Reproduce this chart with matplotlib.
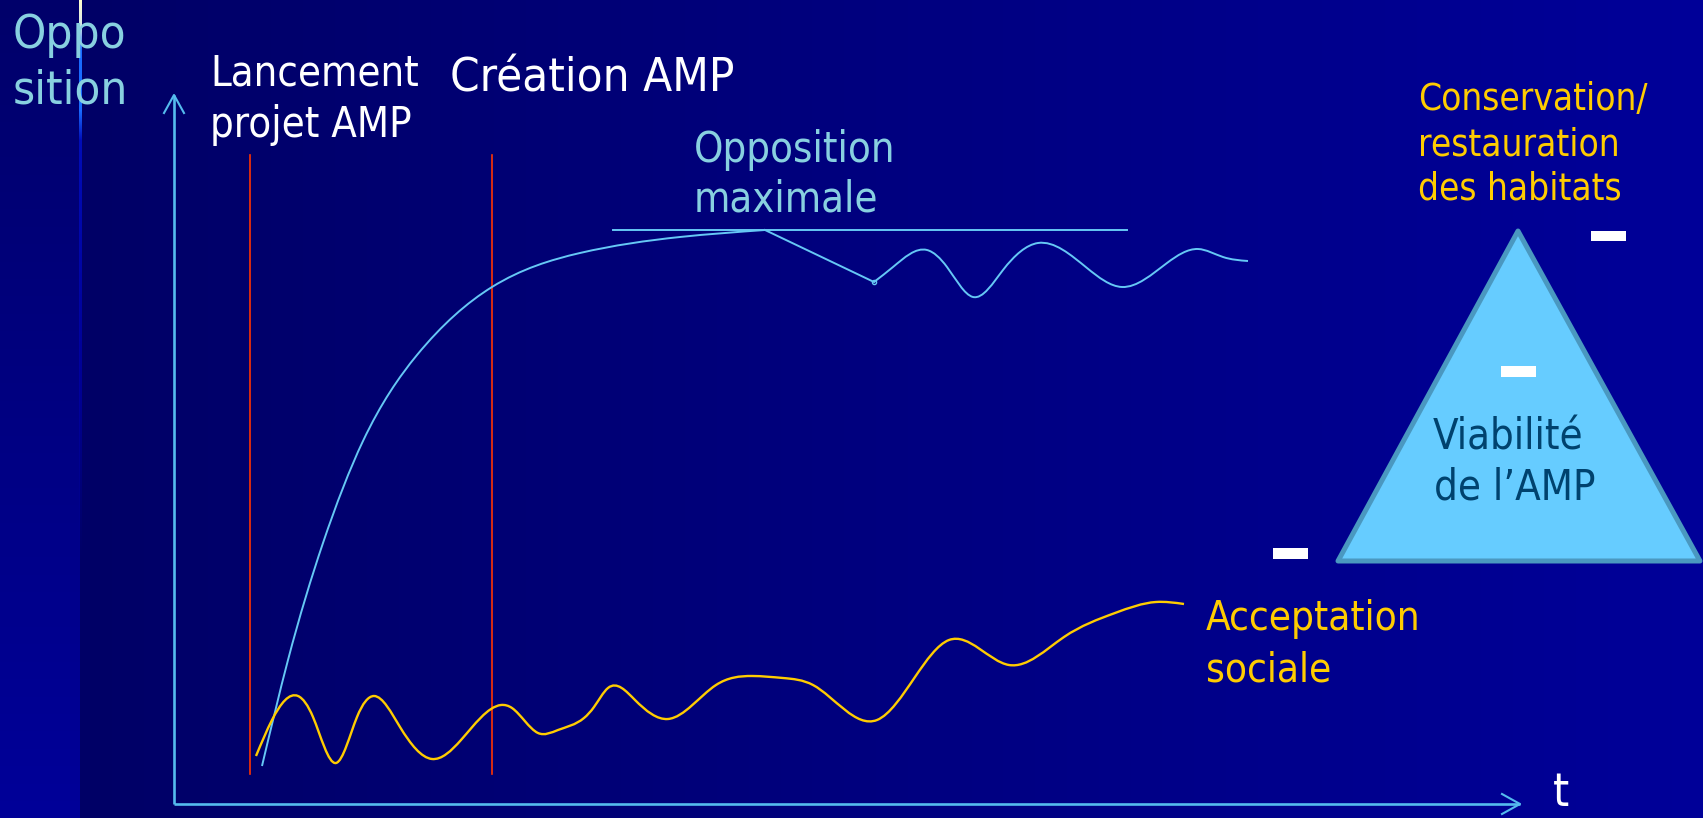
import numpy as np
import matplotlib
matplotlib.use('Agg')
import matplotlib.pyplot as plt
from matplotlib.path import Path
from matplotlib.patches import PathPatch, Polygon, Rectangle

W, H = 1703, 818

# time axis t and level v (1 unit = 100 px on both axes, origin at the axes corner)
opp_rise_t = [0.88, 1.14, 1.49, 1.89, 2.43, 3.18, 4.06, 5.06, 5.91]
opp_rise_v = [0.38, 1.44, 2.61, 3.63, 4.49, 5.17, 5.51, 5.67, 5.74]

opp_wave_t = [7.00, 7.19, 7.53, 7.73, 7.99, 8.29, 8.64, 9.13, 9.48, 9.93, 10.24, 10.49, 10.74]
opp_wave_v = [5.22, 5.37, 5.54, 5.37, 5.07, 5.34, 5.61, 5.36, 5.17, 5.41, 5.55, 5.47, 5.43]

acc_t = [0.82, 0.98, 1.24, 1.39, 1.62, 1.83, 2.00, 2.26, 2.58, 2.87, 3.27, 3.38, 3.64,
         3.84, 4.10, 4.20, 4.34, 4.61, 4.94, 5.42, 5.78, 6.09, 6.39, 7.03, 7.41, 7.75,
         8.35, 8.90, 9.41, 9.82, 10.10]
acc_v = [0.48, 0.84, 1.08, 0.87, 0.41, 0.87, 1.08, 0.77, 0.45, 0.64, 0.99, 0.96, 0.71,
         0.74, 0.86, 0.97, 1.16, 1.04, 0.85, 1.19, 1.28, 1.26, 1.19, 0.84, 1.27, 1.64,
         1.39, 1.67, 1.91, 2.02, 2.00]

event_t = [0.76, 3.18]          # Lancement projet AMP, Création AMP
event_v = (0.30, 6.49)
max_level = 5.74
max_span = (4.39, 9.53)
t_end, v_end = 13.46, 7.09

AXIS = '#55BBEE'
OPP = '#66C8F5'
RED = '#FF3300'
YEL = '#FFCC00'
CYAN = '#88D0E0'


def px(x, y):
    # slide pixel -> data units
    return (x - 174) / 100, (804 - y) / 100


def smooth_path(t, v):
    # natural cubic spline through the points, handed to matplotlib as Bezier segments
    t = np.asarray(t, float)
    v = np.asarray(v, float)
    n = len(t)
    h = np.diff(t)
    d = np.diff(v) / h
    A = np.zeros((n, n))
    rhs = np.zeros(n)
    A[0, 0] = A[-1, -1] = 1
    for i in range(1, n - 1):
        A[i, i - 1] = h[i - 1]
        A[i, i] = 2 * (h[i - 1] + h[i])
        A[i, i + 1] = h[i]
        rhs[i] = 6 * (d[i] - d[i - 1])
    M = np.linalg.solve(A, rhs)
    verts = [(t[0], v[0])]
    codes = [Path.MOVETO]
    for i in range(n - 1):
        s0 = d[i] - h[i] * (2 * M[i] + M[i + 1]) / 6
        s1 = d[i] + h[i] * (M[i] + 2 * M[i + 1]) / 6
        verts += [(t[i] + h[i] / 3, v[i] + s0 * h[i] / 3),
                  (t[i + 1] - h[i] / 3, v[i + 1] - s1 * h[i] / 3),
                  (t[i + 1], v[i + 1])]
        codes += [Path.CURVE4] * 3
    return Path(verts, codes)


# background: navy gradient with the thin rule near the left edge
yy, xx = np.mgrid[0:H, 0:W]
blue = np.where(xx < 80, 0x6A + (0x99 - 0x6A) * yy / H,
                0x66 + (0x99 - 0x66) * (xx - 80) / (W - 80)) / 255
bg = np.zeros((H, W, 3))
bg[..., 2] = blue
rows = np.arange(H)
stops = [0, 25, 50, 110, 140, 400, 560]
r = np.interp(rows, stops, [1.0, 0.85, 0.1, 0.1, 0.0, 0.0, 0.0])
g = np.interp(rows, stops, [1.0, 0.9, 0.42, 0.42, 0.05, 0.0, 0.0])
b = np.interp(rows, stops, [0.8, 0.9, 1.0, 1.0, 0.72, 0.68, 0.6])
a = np.interp(rows, stops, [1, 1, 1, 1, 1, 0.6, 0])
for c, ch in enumerate([r, g, b]):
    bg[:, 79:82, c] = (ch * a)[:, None] + bg[:, 79:82, c] * (1 - a)[:, None]

fig = plt.figure(figsize=(W / 100, H / 100), dpi=100)
ax = fig.add_axes([0, 0, 1, 1])
x0, _ = px(0, 0)
x1, _ = px(W, 0)
_, y0 = px(0, H)
_, y1 = px(0, 0)
ax.imshow(bg, extent=(x0, x1, y0, y1), aspect='auto', zorder=0, interpolation='nearest')
ax.set_xlim(x0, x1)
ax.set_ylim(y0, y1)
ax.axis('off')

# axes with open arrow heads
ax.plot([0, 0], [0, v_end], color=AXIS, lw=1.9, solid_capstyle='butt', zorder=2)
ax.plot([0, t_end], [0, 0], color=AXIS, lw=1.9, solid_capstyle='butt', zorder=2)
ax.plot([-0.10, 0, 0.10], [v_end - 0.18, v_end, v_end - 0.18], color=AXIS, lw=1.5, zorder=2)
ax.plot([t_end - 0.18, t_end, t_end - 0.18], [0.10, 0, -0.10], color=AXIS, lw=1.5, zorder=2)

# event markers
for t in event_t:
    ax.plot([t, t], event_v, color=RED, lw=1.2, zorder=2)

# maximum opposition level
ax.plot(max_span, [max_level, max_level], color=OPP, lw=1.4, zorder=3)

# opposition curve
ax.add_patch(PathPatch(smooth_path(opp_rise_t, opp_rise_v), fill=False, ec=OPP, lw=1.4, zorder=3))
ax.plot([opp_rise_t[-1], opp_wave_t[0]], [opp_rise_v[-1], opp_wave_v[0]], color=OPP, lw=1.4, zorder=3)
ax.add_patch(PathPatch(smooth_path(opp_wave_t, opp_wave_v), fill=False, ec=OPP, lw=1.4, zorder=3))
ax.plot(opp_wave_t[0], opp_wave_v[0], 'o', mfc='none', mec=OPP, ms=3, mew=1, zorder=4)

# social acceptance curve
ax.add_patch(PathPatch(smooth_path(acc_t, acc_v), fill=False, ec=YEL, lw=1.7, zorder=3))

# viability triangle and the white dashes
ax.add_patch(Polygon([px(1518, 231), px(1338, 561), px(1700, 561)], closed=True,
                     fc='#66CCFF', ec='#4A98C0', lw=3.6, joinstyle='round', zorder=3))
for (x, y, w, h) in [(1591, 231, 35, 10), (1501, 366, 35, 11), (1273, 548, 35, 11)]:
    xa, ya = px(x, y + h)
    ax.add_patch(Rectangle((xa, ya), w / 100, h / 100, fc='white', ec='none', zorder=4))

FONT = dict(family=['DejaVu Sans Condensed', 'DejaVu Sans'], fontstretch='condensed',
            ha='left', va='baseline', zorder=5)


def label(x, y, s, size, color):
    ax.text(*px(x, y), s, fontsize=size, color=color, **FONT)


label(13, 48, 'Oppo', 34, CYAN)
label(13, 103, 'sition', 34, CYAN)
label(210, 85, 'Lancement', 30, 'white')
label(210, 137, 'projet AMP', 30, 'white')
label(450, 91, 'Création AMP', 34, 'white')
label(694, 162, 'Opposition', 30, CYAN)
label(694, 212, 'maximale', 30, CYAN)
label(1418, 110, 'Conservation/', 26.5, YEL)
label(1418, 155, 'restauration', 26.5, YEL)
label(1418, 199, 'des habitats', 26.5, YEL)
label(1433, 450, 'Viabilité', 30, '#00426E')
label(1434, 500, 'de l’AMP', 30, '#00426E')
label(1206, 630, 'Acceptation', 29, YEL)
label(1206, 682, 'sociale', 29, YEL)
label(1553, 806, 't', 33, 'white')

fig.savefig('out.png', dpi=100)
